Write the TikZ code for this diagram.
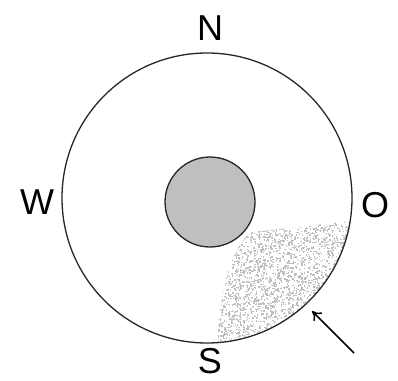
\documentclass[tikz,border=0pt]{standalone}
\usepackage{fontspec}
\setmainfont{Liberation Sans}
\usetikzlibrary{arrows.meta}
\begin{document}
\begin{tikzpicture}[x=1pt,y=-1pt,
  lbl/.style={font=\fontsize{36}{40}\selectfont, inner sep=0pt},
  ring/.style={circle, draw=black!85, line width=1.3pt, inner sep=0pt}]
\useasboundingbox (0,0) rectangle (398,380);
% speckled region
\begin{scope}
  \clip (207,198) circle (145);
  \clip (217,352) .. controls (219,290) and (232,245) .. (252,232) -- (352,221) -- (370,221) -- (370,370) -- (217,370) -- cycle;
  \pgfmathsetseed{7}
  \foreach \i in {1,...,3000}{
    \pgfmathsetmacro\px{217+136*rnd}
    \pgfmathsetmacro\py{220+126*rnd}
    \fill[gray!50] (\px,\py) rectangle ++(1.4,1.4);
  }
\end{scope}
\node[ring, minimum size=290pt] (outer) at (207,198) {};
\node[ring, fill=gray!50, minimum size=90pt] (inner) at (210,202) {};
\node[lbl] (n) at (210,28) {N};
\node[lbl] (w) at (37,202) {W};
\node[lbl] (o) at (375,205) {O};
\node[lbl] (s) at (210,361) {S};
\coordinate (tail) at (354,353);
\coordinate (head) at (312,311);
\draw[line width=1.5pt, -{To[length=9pt,width=12pt]}] (tail) -- (head);
\end{tikzpicture}
\end{document}
